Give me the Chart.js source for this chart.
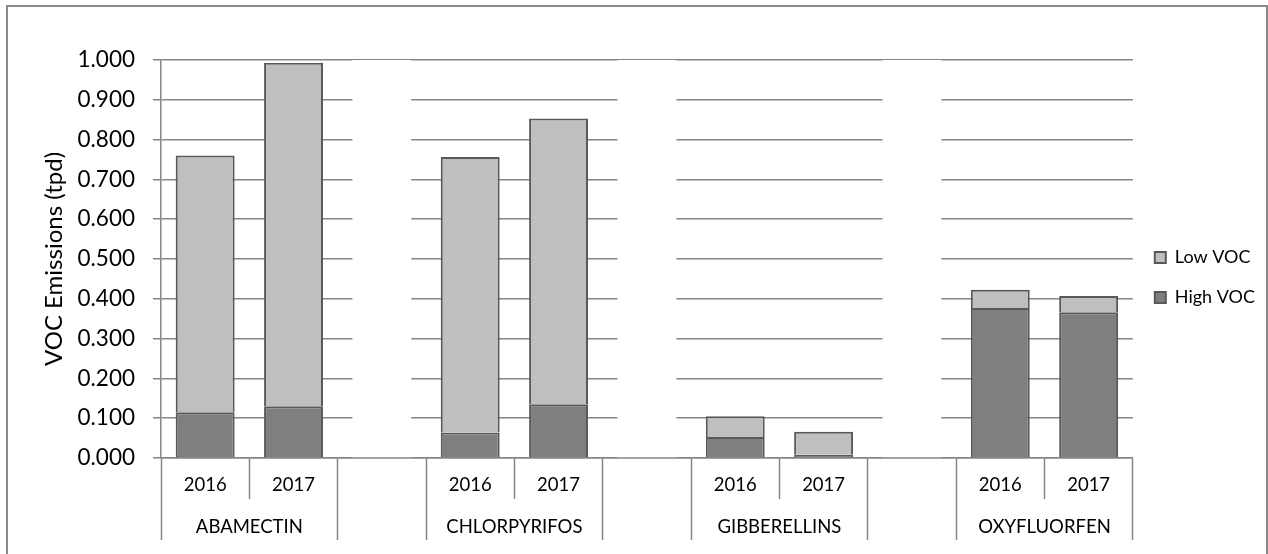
<!DOCTYPE html>
<html>
<head>
<meta charset="utf-8">
<script src="https://cdn.jsdelivr.net/npm/chart.js@4.4.1/dist/chart.umd.min.js"></script>
<style>
  body { margin: 0; background: #fff; }
  #frame { position: absolute; left: 6px; top: 5px; width: 1258px; height: 570px; border: 2px solid #8a8a8a; }
  #chart { position: absolute; left: 0; top: 0; }
</style>
</head>
<body>
<div id="frame"></div>
<canvas id="chart" width="1268" height="554"></canvas>
<script>
// x categories: years per product, blank slot between product groups
const years = ["2016", "2017", "", "2016", "2017", "", "2016", "2017", "", "2016", "2017"];
// group labels sit on the boundaries (0..11) of the lower axis row
const groupLabels = ["", "ABAMECTIN", "", "", "CHLORPYRIFOS", "", "", "GIBBERELLINS", "", "", "OXYFLUORFEN", ""];
const highVoc = [0.115, 0.130, null, 0.064, 0.135, null, 0.053, 0.008, null, 0.377, 0.366];
const lowVoc = [0.645, 0.863, null, 0.692, 0.718, null, 0.052, 0.058, null, 0.046, 0.041];
// blank white columns that break the gridlines between groups
const spacer = [null, null, 1, null, null, 1, null, null, 1, null, null];
const yTicks = [0, 0.1, 0.2, 0.3, 0.4, 0.5, 0.6, 0.7, 0.8, 0.9, 1.0];

const FONT = "Lato";
const GRID = "#868686";
const groupIdx = [1, 4, 7, 10];

new Chart(document.getElementById("chart"), {
    type: "bar",
    data: {
        labels: years,
        datasets: [
            {
                label: "High VOC",
                data: highVoc,
                backgroundColor: "#7f7f7f",
                borderColor: "#595959",
                borderWidth: 2,
                stack: "s"
            },
            {
                label: "Low VOC",
                data: lowVoc,
                backgroundColor: "#bfbfbf",
                borderColor: "#595959",
                borderWidth: 2,
                stack: "s"
            },
            {
                label: "spacer",
                data: spacer,
                backgroundColor: "#ffffff",
                borderWidth: 0,
                stack: "s"
            }
        ]
    },
    options: {
        responsive: false,
        animation: false,
        devicePixelRatio: 1,
        datasets: {
            bar: { categoryPercentage: 1, barPercentage: 0.667, xAxisID: "x" }
        },
        layout: { padding: { left: 40, top: 15, right: 3, bottom: 14 } },
        plugins: {
            tooltip: { enabled: false },
            // empty title only reserves the space above the plot
            title: {
                display: true,
                text: "",
                font: { size: 10, lineHeight: 1 },
                padding: { top: 0, bottom: 35 }
            },
            legend: {
                position: "right",
                reverse: true,
                labels: {
                    filter: item => item.text !== "spacer",
                    boxWidth: 11,
                    boxHeight: 11,
                    padding: 22,
                    color: "#000",
                    font: { family: FONT, size: 18 }
                }
            }
        },
        scales: {
            x: {
                stacked: true,
                z: 1,
                afterFit: axis => { axis.height = 41; },
                grid: { drawOnChartArea: false, tickLength: 41, tickColor: GRID, tickWidth: 1.5 },
                border: { color: GRID, width: 1.5 },
                ticks: { color: "#000", font: { family: FONT, size: 18.5 }, padding: -25, maxRotation: 0, autoSkip: false }
            },
            x2: {
                type: "category",
                position: "bottom",
                labels: groupLabels,
                offset: false,
                afterFit: axis => { axis.height = 41; },
                grid: {
                    offset: false,
                    drawOnChartArea: false,
                    tickLength: 41,
                    tickWidth: 1.5,
                    tickColor: ctx => groupIdx.includes(ctx.index) ? "rgba(0,0,0,0)" : GRID
                },
                border: { display: false },
                ticks: { color: "#000", font: { family: FONT, size: 18.5 }, padding: -24, maxRotation: 0, autoSkip: false }
            },
            y: {
                stacked: true,
                min: 0,
                max: 1,
                afterBuildTicks: axis => { axis.ticks = yTicks.map(v => ({ value: v })); },
                afterFit: axis => { axis.width = 121; },
                grid: { color: GRID, lineWidth: 1.5, tickLength: 8 },
                border: { color: GRID, width: 1.5 },
                ticks: {
                    color: "#000",
                    padding: 18,
                    font: { family: FONT, size: 22.5 },
                    callback: v => Number(v).toFixed(3)
                },
                title: {
                    display: true,
                    text: "VOC Emissions (tpd)",
                    color: "#000",
                    font: { family: FONT, size: 24 },
                    padding: { top: 0, bottom: 8 }
                }
            }
        }
    }
});
</script>
</body>
</html>
